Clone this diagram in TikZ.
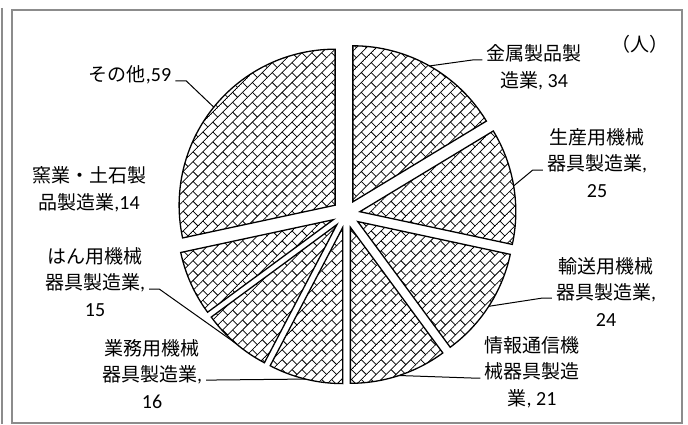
\documentclass[tikz,border=0pt]{standalone}
\usepackage{fontspec}
\setmainfont{Carlito}
\newfontfamily\jp[Scale=0.95]{Noto Sans CJK JP}
\usetikzlibrary{patterns.meta}

\tikzdeclarepattern{
	name=diagbrick,
	type=uncolored,
	bounding box={(-0.5pt,-0.5pt) and (14.5pt,14.5pt)},
	tile size={(14pt,14pt)},
	tile transformation={rotate=45},
	code={
		\draw[line width=0.75pt] (0,0) -- (14pt,0) (0,7pt) -- (14pt,7pt)
			(0,0) -- (0,7pt) (7pt,7pt) -- (7pt,14pt);
	}
}

\begin{document}
\begin{tikzpicture}[x=1pt, y=1pt,
	slice/.style={draw=black, line width=1.3pt, pattern=diagbrick},
	lead/.style={black, line width=1pt},
	lbl/.style={align=center, inner sep=4pt, font=\fontsize{20}{26.5}\selectfont},
	frame/.style={draw=black!45, line width=2pt}]
	\useasboundingbox (0,0) rectangle (688,424);
	\draw[frame] (2,416) -- (2,0);
	\draw[frame] (12,1.5) rectangle (681.5,413.5);

	\begin{scope}[shift={(346,210)}]
	\foreach \i/\a/\b in {1/90/31.15, 2/31.15/-12.12, 3/-12.12/-53.65, 4/-53.65/-90, 5/-90/-117.69, 6/-117.69/-143.65, 7/-143.65/-167.88, 8/-167.88/-270} {
		\pgfmathsetmacro{\m}{(\a+\b)/2}
		\draw[slice] (\m:14) -- ++(\a:156) arc[start angle=\a, end angle=\b, radius=156] -- cycle;
		\coordinate (p\i) at (\m:170);
	}
	\end{scope}

	\node[lbl] (unit) at (640,380) {\jp （人）};
	\node[lbl] (metal) at (534,356.5) {{\jp 金属製品製}\\{\jp 造業}, 34};
	\node[lbl] (prod) at (597,261) {{\jp 生産用機械}\\{\jp 器具製造業},\\25};
	\node[lbl] (trans) at (606,132) {{\jp 輸送用機械}\\{\jp 器具製造業},\\24};
	\node[lbl] (info) at (532,52) {{\jp 情報通信機}\\{\jp 械器具製造}\\{\jp 業}, 21};
	\node[lbl] (biz) at (152,50) {{\jp 業務用機械}\\{\jp 器具製造業},\\16};
	\node[lbl] (gen) at (95,142) {{\jp はん用機械}\\{\jp 器具製造業},\\15};
	\node[lbl] (cer) at (89,234.5) {{\jp 窯業・土石製}\\{\jp 品製造業},14};
	\node[lbl] (oth) at (130,349) {{\jp その他},59};

	\draw[lead] (metal.west |- 0,364) -- ++(-10,0) -- (p1);
	\draw[lead] (prod.west |- 0,254) -- ++(-10,0) -- (p2);
	\draw[lead] (trans.west |- 0,126) -- ++(-9,0) -- (p3);
	\draw[lead] (info.west |- 0,46) -- ++(-9,0) -- (p4);
	\draw[lead] (biz.east |- 0,44) -- ++(10,0) -- (p5);
	\draw[lead] (gen.east |- 0,135) -- ++(10,0) -- (p6);
	\draw[lead] (oth.east |- 0,343) -- ++(11,0) -- (p8);
\end{tikzpicture}
\end{document}
